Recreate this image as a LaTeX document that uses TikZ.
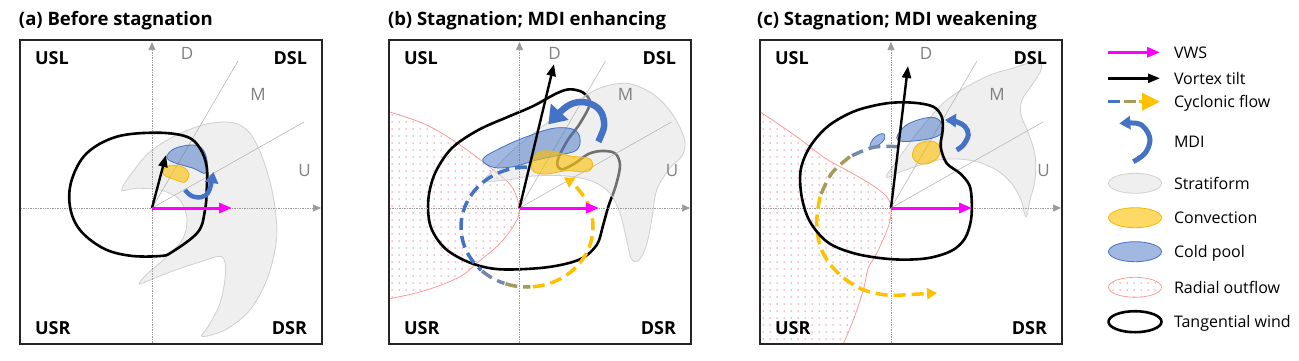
\documentclass[tikz,border=0pt]{standalone}
\usepackage{fontspec}
\setmainfont{Open Sans}
\usetikzlibrary{arrows.meta,patterns.meta}
\definecolor{mdiblue}{HTML}{4472C4}
\definecolor{convyel}{HTML}{FFC000}
\definecolor{convedge}{HTML}{F2B800}
\definecolor{stratedge}{HTML}{CFCFCF}
\definecolor{vwsmag}{HTML}{FF00FF}
\definecolor{pinkline}{HTML}{FF9090}
\definecolor{pinkdot}{HTML}{F08096}
\definecolor{axisgray}{HTML}{9A9A9A}
\definecolor{labgray}{HTML}{808080}
\definecolor{slate}{HTML}{7489A8}
\definecolor{olivec}{HTML}{A69A5C}
\newcommand\paneldecor[4]{%
  \coordinate (#1c) at (#4,208);
  \coordinate (#1xl) at ({#2+1},208);
  \coordinate (#1xr) at ({#3-1},208);
  \coordinate (#1yb) at (#4,343);
  \coordinate (#1yt) at (#4,42);
  \coordinate (#1dd) at ({#4+86},61);
  \coordinate (#1uu) at ({#4+152},122);
  \draw[axisline] (#1xl) -- (#1xr);
  \draw[axisline] (#1yb) -- (#1yt);
  \draw[refline] (#1c) -- (#1dd);
  \draw[refline] (#1c) -- (#1uu);
  \node[dirlab] (#1D) at ({#4+35},53) {D};
  \node[dirlab] (#1M) at ({#4+106},94.5) {M};
  \node[dirlab] (#1U) at ({#4+152.5},171) {U};
}
\newcommand\quadlabels[3]{%
  \node[quad, anchor=west] (#1usl) at ({#2+15},58.5) {USL};
  \node[quad, anchor=east] (#1dsl) at ({#3-15},58.5) {DSL};
  \node[quad, anchor=west] (#1usr) at ({#2+15},328) {USR};
  \node[quad, anchor=east] (#1dsr) at ({#3-15},328) {DSR};
}
\begin{document}
\begin{tikzpicture}[x=1pt,y=-1pt,
  every node/.style={inner sep=0pt, outer sep=0pt},
  titlelab/.style={font=\fontsize{18.5}{22}\selectfont\bfseries, anchor=base west},
  quad/.style={font=\fontsize{18}{21}\selectfont\bfseries},
  dirlab/.style={font=\fontsize{17}{20}\selectfont, text=labgray},
  legtext/.style={font=\fontsize{16}{19}\selectfont, anchor=base west},
  panelfill/.style={fill=white},
  panelframe/.style={draw=black!85, line width=1.5pt},
  axisline/.style={draw=axisgray, line width=0.7pt, densely dotted, -{Triangle[length=8pt,width=7pt]}},
  refline/.style={draw=axisgray!80, line width=0.5pt},
  strat/.style={fill=black!12, fill opacity=0.5, draw=stratedge, line width=0.8pt},
  cpool/.style={fill=mdiblue, fill opacity=0.5, draw=mdiblue, line width=0.8pt},
  conv/.style={fill=convyel, fill opacity=0.6, draw=convedge, line width=0.8pt},
  tanwind/.style={draw=black, line width=2.6pt, line join=round},
  tilt/.style={draw=black, line width=2.4pt, -{Triangle[length=12pt,width=9pt]}},
  vws/.style={draw=vwsmag, line width=3pt, -{Triangle[length=13pt,width=10pt]}},
  mdiarrow/.style={draw=mdiblue, line width=5pt, -{Triangle[length=11pt,width=13pt]}},
  flow/.style={line width=3.5pt, dash pattern=on 12pt off 6pt},
  radialfill/.style={pattern={Dots[radius=0.75pt,distance=7pt]}, pattern color=pinkdot},
  radialline/.style={draw=pinkline, line width=0.7pt},
]
\useasboundingbox (0,0) rectangle (1299,360);

% ================= Panel (a) =================
\node[titlelab] (ta) at (19,25) {(a) Before stagnation};
\fill[panelfill] (20,40) rectangle (322,344);
\draw[strat] plot[smooth cycle, tension=0.55] coordinates {(121.7,190) (131.7,173.3) (150,151.7) (176.7,135) (206.7,124) (233.3,122.7) (250,133.3) (263.3,160) (273.3,196.7) (276.7,236.7) (268,276.7) (250,310) (225,330) (202,336.5) (208,326.7) (220,303.3) (225.5,273.3) (221.7,256.7) (200,262) (170,272) (146,281.7) (139,284) (146,275) (166.7,256.7) (183.3,238) (186.7,216) (178.3,198.3) (160,190) (136.7,188.3)};
\paneldecor{a}{20}{322}{152}
\draw[cpool] plot[smooth cycle, tension=0.6] coordinates {(166.7,156.7) (175,148.3) (193.3,145) (203.3,150) (207.3,163.3) (205,173.3) (193.3,168.3) (173.3,162.3)};
\draw[conv] plot[smooth cycle, tension=0.6] coordinates {(163.3,170) (170,165.3) (183.3,167.3) (189,174) (185,182) (176,180) (164,175)};
\draw[tanwind] plot[smooth cycle, tension=0.6] coordinates {(156.7,132.7) (186.7,136.7) (200,148.3) (206.7,166.7) (206.7,190) (205,210) (198,232) (172,252) (160,256) (130,255.7) (103.3,248.3) (80,230) (70,206.7) (71.7,180) (86.7,153.3) (116.7,136.7)};
\coordinate (atilt) at (166,155);
\coordinate (avws) at (232,208);
\draw[tilt] (ac) -- (atilt);
\draw[vws] (ac) -- (avws);
\draw[mdiarrow, line width=4.5pt] plot[smooth, tension=0.6] coordinates {(185,190) (191.7,196) (201.7,197) (209,191) (213.5,172)};
\quadlabels{a}{20}{322}
\draw[panelframe] (20,40) rectangle (322,344);

% ================= Panel (b) =================
\node[titlelab] (tb) at (388,25) {(b) Stagnation; MDI enhancing};
\fill[panelfill] (389,40) rectangle (691,344);
\fill[radialfill] plot[smooth, tension=0.6] coordinates {(389,111.7) (426.7,125) (460,145) (493.3,170) (511.7,186.7) (519.3,208.3) (515,223.3) (500,243.3) (476.7,263.3) (460,276.7) (426.7,290) (389,299)} -- cycle;
\draw[radialline] plot[smooth, tension=0.6] coordinates {(389,111.7) (426.7,125) (460,145) (493.3,170) (511.7,186.7) (519.3,208.3) (515,223.3) (500,243.3) (476.7,263.3) (460,276.7) (426.7,290) (389,299)};
\draw[tanwind] plot[smooth cycle, tension=0.55] coordinates {(583.3,92.7) (590,103.3) (580,123.3) (566.7,141.7) (557.3,161.7) (561.7,169.3) (575,163.3) (588.3,154) (601.7,151) (615,153.3) (620,165) (616,185) (608.3,206.7) (602.7,226.7) (596.7,245) (580,259.3) (546.7,267.3) (500,269.3) (470,262.7) (445,248.3) (430.7,226.7) (428.3,200) (435,173.3) (451.7,148.3) (478.3,130) (508.3,116.7) (533.3,106) (556.7,93.3) (570,89.3)};
\draw[strat] plot[smooth cycle, tension=0.55] coordinates {(485,180.7) (506.7,180) (533.3,176) (566.7,176) (593.3,181.7) (610,193.3) (620,213.3) (626.7,240) (631,258.3) (638,261) (646,246.7) (651.7,220) (656.7,190) (670,168) (682,156) (685,142) (678.3,124) (666.7,106.7) (650,92) (628,83.5) (606,86) (588,94) (566.7,108.3) (540,128.3) (513.3,150) (493.3,170)};
\paneldecor{b}{389}{691}{519.5}
\draw[cpool] plot[smooth cycle, tension=0.6] coordinates {(482.7,159.3) (500,148.3) (526.7,136.7) (553.3,128.3) (573.3,129.3) (580,138.3) (576.7,150) (560,155) (536.7,160) (513.3,166.7) (493.3,167.3)};
\draw[conv] plot[smooth cycle, tension=0.6] coordinates {(531.7,165) (536.7,153.3) (550,151) (570,156) (588.3,158.3) (592.7,165) (586.7,171.7) (566.7,170.7) (546.7,174) (534,171.7)};
\draw[flow, draw=mdiblue] plot[domain=90:226, samples=40, variable=\t] ({527+66*cos(\t)}, {227-60*sin(\t)});
\draw[flow, draw=slate] plot[domain=227:250, samples=10, variable=\t] ({527+66*cos(\t)}, {227-60*sin(\t)});
\draw[flow, draw=olivec] plot[domain=251:273, samples=10, variable=\t] ({527+66*cos(\t)}, {227-60*sin(\t)});
\draw[flow, draw=convyel, -{Triangle[length=10pt,width=11pt]}] plot[domain=275:416, samples=40, variable=\t] ({527+66*cos(\t)}, {227-60*sin(\t)});
\coordinate (btilt) at (554,64);
\coordinate (bvws) at (599,208);
\draw[tilt] (bc) -- (btilt);
\draw[vws] (bc) -- (bvws);
\draw[mdiarrow, line width=6.5pt, -{Triangle[length=17pt,width=23pt]}] plot[smooth, tension=0.6] coordinates {(598.3,141.7) (604,126.7) (601.7,113.3) (593.3,105) (580,102) (566,107) (548.3,124.3)};
\quadlabels{b}{389}{691}
\draw[panelframe] (389,40) rectangle (691,344);

% ================= Panel (c) =================
\node[titlelab] (tc) at (757,25) {(c) Stagnation; MDI weakening};
\fill[panelfill] (760,40) rectangle (1062,344);
\fill[radialfill] plot[smooth, tension=0.6] coordinates {(760,111.7) (796.7,136.7) (825,158) (850,172) (872,185) (886.7,196.7) (891,209) (888.3,226.7) (876.7,253.3) (868.3,268) (863.3,290) (853.3,320) (843.3,344)} -- (760,344) -- cycle;
\draw[radialline] plot[smooth, tension=0.6] coordinates {(760,111.7) (796.7,136.7) (825,158) (850,172) (872,185) (886.7,196.7) (891,209) (888.3,226.7) (876.7,253.3) (868.3,268) (863.3,290) (853.3,320) (843.3,344)};
\draw[strat] plot[smooth cycle, tension=0.55] coordinates {(886,177) (900,156.7) (916.7,133.3) (935,111.7) (946.7,100) (966.7,86.7) (990,75) (1013,68) (1038,61) (1041,70) (1032,85) (1022,100) (1021,115) (1028,132) (1035,155) (1035,180) (1030,200) (1026,217) (1021,200) (1012,184) (998,171) (978,162) (958,159) (938,160) (920,165) (900,172)};
\paneldecor{c}{760}{1062}{891}
\draw[cpool] plot[smooth cycle, tension=0.6] coordinates {(896.7,137.3) (905,126) (920,119.3) (935,117.7) (942.7,125) (941.7,133.3) (931.7,138.3) (916.7,140.7) (901.7,141.3)};
\draw[cpool] plot[smooth cycle, tension=0.6] coordinates {(870,146) (873,139) (879,134.5) (884,134) (884.5,139) (880,144) (874,147)};
\draw[conv] plot[smooth cycle, tension=0.6] coordinates {(912.5,156) (916,146) (925,141.5) (935,142) (940,148) (938,157) (930,163) (919,163.5)};
\draw[flow, draw=slate] plot[smooth, tension=0.6] coordinates {(898.3,146.7) (873.3,147.3) (850,156.7)};
\draw[flow, draw=olivec] plot[smooth, tension=0.6] coordinates {(850,156.7) (831.7,173.3) (820,196.7)};
\draw[flow, draw=convyel, -{Triangle[length=10pt,width=11pt]}] plot[smooth, tension=0.6] coordinates {(820,196.7) (816.7,223.3) (821.7,250) (836.7,271.7) (860,288.3) (886.7,295) (913.3,294.3) (937,293)};
\draw[tanwind] plot[smooth cycle, tension=0.55] coordinates {(941.7,116.7) (942.7,130) (940.7,146.7) (946.7,163.3) (960,173.3) (969.3,185) (971.7,200) (971,220) (965,238.3) (951.7,250.7) (926.7,258.3) (893.3,259.3) (856.7,254) (828.3,242.7) (810,221.7) (801.7,196.7) (800.7,170) (810,146.7) (828.3,126) (855,111) (886.7,103.3) (913.3,102.7) (933.3,106.7)};
\coordinate (ctilt) at (908,66);
\coordinate (cvws) at (972,208);
\draw[tilt] (cc) -- (ctilt);
\draw[vws] (cc) -- (cvws);
\draw[mdiarrow] plot[smooth, tension=0.6] coordinates {(956.7,150) (963.3,145) (968.3,135) (965,126.7) (956,121.5) (945,120)};
\quadlabels{c}{760}{1062}
\draw[panelframe] (760,40) rectangle (1062,344);

% ================= Legend =================
\coordinate (lv1) at (1108,52.3); \coordinate (lv2) at (1160,52.3);
\draw[vws] (lv1) -- (lv2);
\node[legtext] (lvws) at (1174,58) {VWS};
\coordinate (lt1) at (1108,78.3); \coordinate (lt2) at (1160,78.3);
\draw[tilt] (lt1) -- (lt2);
\node[legtext] (ltilt) at (1174,84) {Vortex tilt};
\coordinate (lf1) at (1108,101.7); \coordinate (lf2) at (1120,101.7);
\coordinate (lf3) at (1124,101.7); \coordinate (lf4) at (1136,101.7);
\coordinate (lf5) at (1139,101.7); \coordinate (lf6) at (1160,101.7);
\draw[line width=3.5pt, draw=mdiblue] (lf1) -- (lf2);
\draw[line width=3.5pt, draw=olivec] (lf3) -- (lf4);
\draw[line width=3.5pt, draw=convyel, -{Triangle[length=18pt,width=17pt]}] (lf5) -- (lf6);
\node[legtext] (lflow) at (1174,107.4) {Cyclonic flow};
\draw[mdiarrow] plot[smooth, tension=0.6] coordinates {(1133.3,161.7) (1145,153.3) (1150,140) (1145,128.3) (1136.7,123.3) (1119.3,123.5)};
\node[legtext] (lmdi) at (1174,147.4) {MDI};
\coordinate (ls) at (1135,183.3);
\draw[strat] (ls) ellipse [x radius=26.5pt, y radius=10pt];
\node[legtext] (lstrat) at (1174,189) {Stratiform};
\coordinate (lcv) at (1135,217.7);
\draw[conv] (lcv) ellipse [x radius=26.5pt, y radius=10pt];
\node[legtext] (lconv) at (1174,223.4) {Convection};
\coordinate (lcp) at (1135,251.7);
\draw[cpool] (lcp) ellipse [x radius=26.5pt, y radius=10pt];
\node[legtext] (lcpool) at (1174,257.4) {Cold pool};
\coordinate (lro) at (1135,287.3);
\fill[radialfill] (lro) ellipse [x radius=26.5pt, y radius=10pt];
\draw[radialline] (lro) ellipse [x radius=26.5pt, y radius=10pt];
\node[legtext] (lrad) at (1174,293) {Radial outflow};
\coordinate (ltw) at (1135,321.7);
\draw[tanwind] (ltw) ellipse [x radius=26.5pt, y radius=10.5pt];
\node[legtext] (ltan) at (1174,327.4) {Tangential wind};
\end{tikzpicture}
\end{document}
